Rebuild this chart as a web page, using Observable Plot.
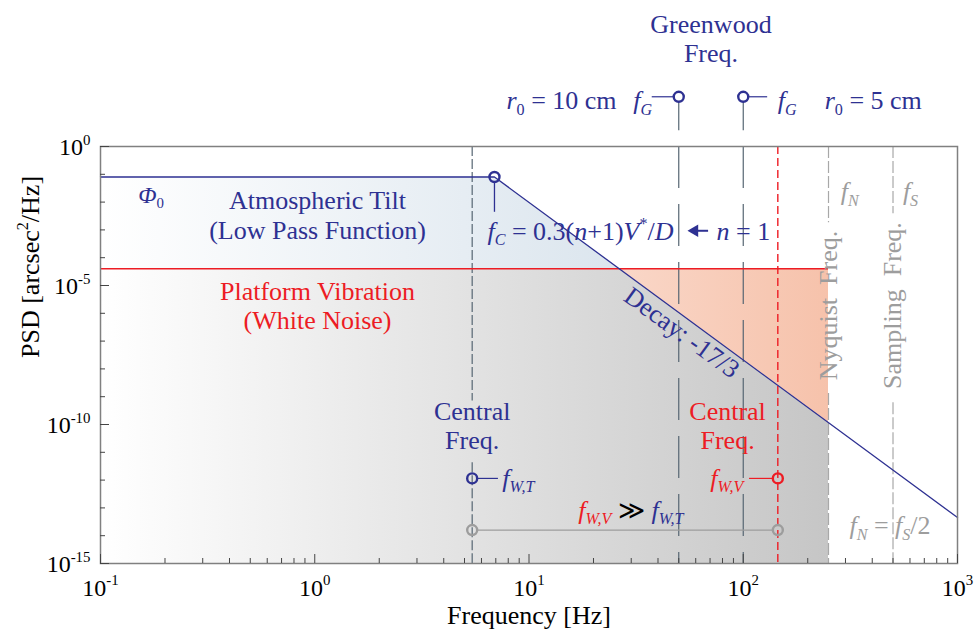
<!DOCTYPE html>
<html>
<head>
<meta charset="utf-8">
<script src="https://cdn.jsdelivr.net/npm/d3@7"></script>
<script src="https://cdn.jsdelivr.net/npm/@observablehq/plot@0.6"></script>
<style>
  html, body { margin: 0; padding: 0; background: #fff; }
  #chart svg, #chart svg text, #chart svg tspan { font-family: "Liberation Serif", "DejaVu Serif", serif !important; }
</style>
</head>
<body>
<div id="chart"></div>
<script>
// ---------- colours ----------
const BLUE = "#2e3192", RED = "#ed1c24", GRAY = "#9d9d9d", SLATE = "#566673", TICK = "#444";

// ---------- axes ----------
const xDomain = [0.1, 1000];
const yDomain = [1e-15, 1];
const xMajor = [0.1, 1, 10, 100, 1000];
const xMajorLabels = ["10^{-1}", "10^{0}", "10^{1}", "10^{2}", "10^{3}"];
const yMajor = [1, 1e-5, 1e-10, 1e-15];
const yMajorLabels = ["10^{0}", "10^{-5}", "10^{-10}", "10^{-15}"];
const xMinor = [0.1, 1, 10, 100].flatMap(d => [2, 3, 4, 5, 6, 7, 8, 9].map(k => k * d));
const yMinor = [1e-1, 1e-2, 1e-3, 1e-4, 1e-6, 1e-7, 1e-8, 1e-9, 1e-11, 1e-12, 1e-13, 1e-14];

// ---------- series ----------
const tiltFreq = [0.1, 6.9, 1000];           // atmospheric tilt (low pass, decay -17/3)
const tiltPSD  = [0.08, 0.08, 4.5e-14];
const whiteLevel = 4e-5;                      // platform vibration white noise
const whiteFreq = [0.1, 250];
// shaded regions
const grayFreq = [0.1, 26.4, 250];
const grayTop  = [4e-5, 4e-5, 1.2e-10];
const blueFreq = [0.1, 6.9, 26.4];
const blueTop  = [0.08, 0.08, 4e-5];
const salmonFreq   = [26.4, 250];
const salmonBottom = [4e-5, 1.2e-10];

// ---------- key frequencies ----------
const fC = 6.9, phi0 = 0.08;
const fWT = 5.43, fWV = 145;
const fG = [50, 100];
const fN = 250, fS = 500;
const markerY = 1.15e-12;     // central freq. markers
const compareY = 1.6e-14;     // fW,V >> fW,T bracket
const greenY = 61.5;          // Greenwood markers (above frame)
const greenStemEnd = 3.67;
const cornerStemEnd = 4.3e-3;
// dashed line segments (gaps for labels)
const fWTSegments = [[1, 7e-10], [4.2e-12, 1e-15]];
const nyquistSegments = [[1, 1.8e-3], [1.3e-9, 1e-15]];
const samplingSegments = [[1, 3.8e-3], [6e-10, 1e-15]];
// leaders (left end at a circle / right end at a circle)
const leadersFromCircle = [
  {y: greenY, x1: 100, x2: 130, c: BLUE},
  {y: markerY, x1: fWT, x2: 7.2, c: BLUE}
];
const leadersToCircle = [
  {y: greenY, x1: 37.6, x2: 50, c: BLUE},
  {y: markerY, x1: 107, x2: fWV, c: RED}
];
const compareBracket = [{y: compareY, x1: fWT, x2: fWV}];
const circles = [
  {x: fC, y: phi0, c: BLUE},
  {x: fG[0], y: greenY, c: BLUE},
  {x: fG[1], y: greenY, c: BLUE},
  {x: fWT, y: markerY, c: BLUE},
  {x: fWV, y: markerY, c: RED},
  {x: fWT, y: compareY, c: GRAY},
  {x: fWV, y: compareY, c: GRAY}
];
const arrowTip = {x: 59.3, y: 9.3e-4}, arrowTail = [61.2, 68.9];

// ---------- labels ----------
const blockLabels = [
  {x: 1.03, y: 3.6e-3, t: "Atmospheric Tilt\n(Low Pass Function)", c: BLUE},
  {x: 1.03, y: 2.0e-6, t: "Platform Vibration\n(White Noise)", c: RED},
  {x: fWT, y: 9.6e-11, t: "Central\nFreq.", c: BLUE},
  {x: 84.5, y: 9.6e-11, t: "Central\nFreq.", c: RED},
  {x: 70.7, y: 7.9e3, t: "Greenwood\nFreq.", c: BLUE}
];
const startLabels = [
  {x: 7.85, y: 45, t: "~r~_{0} = 10 cm", c: BLUE},
  {x: 145, y: 45, t: "~f~_{~G~}", c: BLUE},
  {x: 240, y: 45, t: "~r~_{0} = 5 cm", c: BLUE},
  {x: 6.4, y: 9.0e-4, t: "~f~_{~C~} = 0.3(~n~+1)~V~^{*}/~D~", c: BLUE},
  {x: 75, y: 9.0e-4, t: "~n~ = 1", c: BLUE},
  {x: 7.5, y: markerY, t: "~f~_{~W,T~}", c: BLUE},
  {x: 17, y: 8.1e-14, t: "<r>~f~_{~W,V~}</r> ≫ <b>~f~_{~W,T~}</b>", c: "#000"},
  {x: 285, y: 0.024, t: "~f~_{~N~}", c: GRAY},
  {x: 556, y: 0.024, t: "~f~_{~S~}", c: GRAY},
  {x: 313, y: 2.3e-14, t: "~f~_{~N~} = ~f~_{~S~}/2", c: GRAY}
];
const endLabels = [
  {x: 37.6, y: 45, t: "~f~_{~G~}", c: BLUE},
  {x: 100, y: markerY, t: "~f~_{~W,V~}", c: RED}
];
const phiLabel = [{x: 0.15, y: 0.018, t: "~Φ~_{0}"}];
const decayLabel = [{x: 51.6, y: 2.0e-7, t: "Decay: -17/3"}];
const verticalLabels = [
  {x: fN, y: 1.9e-6, t: "Nyquist\u00a0\u00a0Freq."},
  {x: fS, y: 1.9e-6, t: "Sampling\u00a0\u00a0Freq."}
];

// ---------- layout ----------
const W = 977, H = 636;
const M = {top: 146, right: 20, bottom: 73, left: 100};
const plotW = W - M.left - M.right, plotH = H - M.top - M.bottom;
const idx = a => d3.range(a.length);
const SERIF = "Liberation Serif";

const plot = Plot.plot({
  width: W, height: H,
  marginTop: M.top, marginRight: M.right, marginBottom: M.bottom, marginLeft: M.left,
  style: {background: "white", fontFamily: SERIF, fontSize: "26px", color: "#000"},
  x: {type: "log", domain: xDomain, axis: null},
  y: {type: "log", domain: yDomain, axis: null},
  marks: [
    // fills
    Plot.areaY(idx(grayFreq), {x: i => grayFreq[i], y1: yDomain[0], y2: i => grayTop[i], fill: "url(#gGray)"}),
    Plot.areaY(idx(blueFreq), {x: i => blueFreq[i], y1: whiteLevel, y2: i => blueTop[i], fill: "url(#gBlue)"}),
    Plot.areaY(idx(salmonFreq), {x: i => salmonFreq[i], y1: i => salmonBottom[i], y2: whiteLevel, fill: "url(#gSalmon)"}),

    // dashed vertical markers
    Plot.ruleX(fWTSegments, {x: fWT, y1: d => d[0], y2: d => d[1], stroke: SLATE, strokeWidth: 1.2, strokeDasharray: "10,3"}),
    Plot.ruleX(fG, {x: d => d, y1: yDomain[1], y2: yDomain[0], stroke: SLATE, strokeWidth: 1.2, strokeDasharray: "42,16"}),
    Plot.ruleX(fG, {x: d => d, y1: greenY, y2: greenStemEnd, insetTop: 5, stroke: SLATE, strokeWidth: 1.2}),
    Plot.ruleX(nyquistSegments, {x: fN, y1: d => d[0], y2: d => d[1], stroke: "#a8a8a8", strokeWidth: 1.2, strokeDasharray: "12,3"}),
    Plot.ruleX(samplingSegments, {x: fS, y1: d => d[0], y2: d => d[1], stroke: "#a8a8a8", strokeWidth: 1.2, strokeDasharray: "12,3"}),
    Plot.ruleX([fWV], {x: d => d, y1: yDomain[1], y2: yDomain[0], stroke: RED, strokeWidth: 1.4, strokeDasharray: "8,4"}),

    // curves
    Plot.ruleY([whiteLevel], {y: d => d, x1: whiteFreq[0], x2: whiteFreq[1], stroke: RED, strokeWidth: 1.6}),
    Plot.line(idx(tiltFreq), {x: i => tiltFreq[i], y: i => tiltPSD[i], stroke: BLUE, strokeWidth: 1.3}),

    // leaders and stems
    Plot.ruleX([fC], {x: d => d, y1: phi0, y2: cornerStemEnd, insetTop: 5, stroke: BLUE, strokeWidth: 1.3}),
    Plot.ruleY(leadersFromCircle, {y: "y", x1: "x1", x2: "x2", stroke: "c", insetLeft: 5, strokeWidth: 1.2}),
    Plot.ruleY(leadersToCircle, {y: "y", x1: "x1", x2: "x2", stroke: "c", insetRight: 5, strokeWidth: 1.2}),
    Plot.ruleY(compareBracket, {y: "y", x1: "x1", x2: "x2", stroke: GRAY, insetLeft: 5, insetRight: 5, strokeWidth: 1.2}),

    // arrow (pointing from n = 1 to the formula)
    Plot.ruleY([arrowTip.y], {y: d => d, x1: arrowTail[0], x2: arrowTail[1], stroke: BLUE, strokeWidth: 2}),
    Plot.dot([arrowTip], {x: "x", y: "y", symbol: "triangle", rotate: -90, r: 4.6, fill: BLUE, stroke: null}),

    // circles
    Plot.dot(circles, {x: "x", y: "y", r: 5, stroke: "c", fill: "none", strokeWidth: 2.4}),

    // frame + ticks
    Plot.frame({stroke: "#808080", strokeWidth: 1.5}),
    Plot.ruleX(xMinor, {x: d => d, insetTop: plotH - 5, stroke: TICK, strokeWidth: 1}),
    Plot.ruleX(xMajor, {x: d => d, insetTop: plotH - 9, stroke: TICK, strokeWidth: 1}),
    Plot.ruleY(yMinor, {y: d => d, insetRight: plotW - 5, stroke: TICK, strokeWidth: 1}),
    Plot.ruleY(yMajor, {y: d => d, insetRight: plotW - 9, stroke: TICK, strokeWidth: 1}),

    // tick labels
    Plot.text(idx(xMajor), {x: i => xMajor[i], frameAnchor: "bottom", dy: 32, text: i => xMajorLabels[i], fontFamily: SERIF, fontSize: 24, fill: "#000"}),
    Plot.text(idx(yMajor), {y: i => yMajor[i], frameAnchor: "left", textAnchor: "end", dx: -10, dy: 1, text: i => yMajorLabels[i], fontFamily: SERIF, fontSize: 24, fill: "#000"}),

    // axis titles
    Plot.text(["Frequency [Hz]"], {frameAnchor: "bottom", dy: 60, text: d => d, fontFamily: SERIF, fontSize: 26, fill: "#000"}),
    Plot.text(["PSD [arcsec^{2}/Hz]"], {frameAnchor: "left", dx: -70, dy: 3, rotate: -90, text: d => d, fontFamily: SERIF, fontSize: 26, fill: "#000"}),

    // annotations
    Plot.text(blockLabels, {x: "x", y: "y", text: "t", fill: "c", fontFamily: SERIF, fontSize: 26, lineHeight: 1.13}),
    Plot.text(startLabels, {x: "x", y: "y", text: "t", fill: "c", textAnchor: "start", fontFamily: SERIF, fontSize: 26}),
    Plot.text(endLabels, {x: "x", y: "y", text: "t", fill: "c", textAnchor: "end", fontFamily: SERIF, fontSize: 26}),
    Plot.text(phiLabel, {x: "x", y: "y", text: "t", fill: BLUE, textAnchor: "start", fontFamily: SERIF, fontSize: 24}),
    Plot.text(decayLabel, {x: "x", y: "y", text: "t", rotate: 36, fill: BLUE, fontFamily: SERIF, fontSize: 26}),
    Plot.text(verticalLabels, {x: "x", y: "y", text: "t", rotate: -90, fill: GRAY, fontFamily: SERIF, fontSize: 26})
  ]
});

document.getElementById("chart").appendChild(plot);

// ---------- gradients for the shaded regions ----------
const svgNS = "http://www.w3.org/2000/svg";
const sx = plot.scale("x");
const gx0 = sx.apply(grayFreq[0]), gx1 = sx.apply(grayFreq[grayFreq.length - 1]);
const defs = document.createElementNS(svgNS, "defs");
defs.innerHTML = `
  <linearGradient id="gGray" gradientUnits="userSpaceOnUse" x1="${gx0}" y1="0" x2="${gx1}" y2="0">
    <stop offset="0" stop-color="#ffffff"/><stop offset="1" stop-color="#c6c6c6"/>
  </linearGradient>
  <linearGradient id="gBlue" gradientUnits="userSpaceOnUse" x1="${gx0}" y1="0" x2="${gx1}" y2="0">
    <stop offset="0" stop-color="#ffffff"/><stop offset="1" stop-color="#cddbe7"/>
  </linearGradient>
  <linearGradient id="gSalmon" gradientUnits="userSpaceOnUse" x1="${gx0}" y1="0" x2="${gx1}" y2="0">
    <stop offset="0.6" stop-color="#fbdfd3"/><stop offset="1" stop-color="#f6c2ab"/>
  </linearGradient>`;
plot.insertBefore(defs, plot.firstChild);

// ---------- rich text: ~italic~, _{sub}, ^{sup}, <r>/<b>/<k> colours ----------
const tagColors = {r: RED, b: BLUE, k: "#000", g: GRAY};
function parseRich(s) {
  const out = []; let it = false, sh = 0, color = null, buf = "", i = 0;
  const flush = () => { if (buf) out.push({t: buf, it, sh, color}); buf = ""; };
  while (i < s.length) {
    const c = s[i];
    if (c === "~") { flush(); it = !it; i++; continue; }
    if ((c === "_" || c === "^") && s[i + 1] === "{") { flush(); sh = c === "_" ? "sub" : "sup"; i += 2; continue; }
    if (c === "}" && sh) { flush(); sh = 0; i++; continue; }
    if (c === "<") {
      const m = s.slice(i).match(/^<(\/?)([a-z])>/);
      if (m) { flush(); color = m[1] ? null : tagColors[m[2]]; i += m[0].length; continue; }
    }
    buf += c; i++;
  }
  flush();
  return out;
}
plot.querySelectorAll("text").forEach(el => {
  if (el.querySelector("tspan")) return;
  const src = el.textContent;
  if (!/[~<]|[_^]\{/.test(src)) return;
  const fs = parseFloat(getComputedStyle(el).fontSize) || 26;
  const segs = parseRich(src);
  while (el.firstChild) el.removeChild(el.firstChild);
  let off = 0;
  for (const s of segs) {
    const ts = document.createElementNS(svgNS, "tspan");
    ts.textContent = s.t;
    if (s.it) ts.setAttribute("font-style", "italic");
    if (s.color) ts.setAttribute("fill", s.color);
    const target = s.sh === "sub" ? 0.22 * fs : s.sh === "sup" ? -0.42 * fs : 0;
    if (s.sh) ts.setAttribute("font-size", (0.62 * fs).toFixed(2) + "px");
    if (target !== off) { ts.setAttribute("dy", (target - off).toFixed(2)); off = target; }
    el.appendChild(ts);
  }
});
</script>
</body>
</html>
